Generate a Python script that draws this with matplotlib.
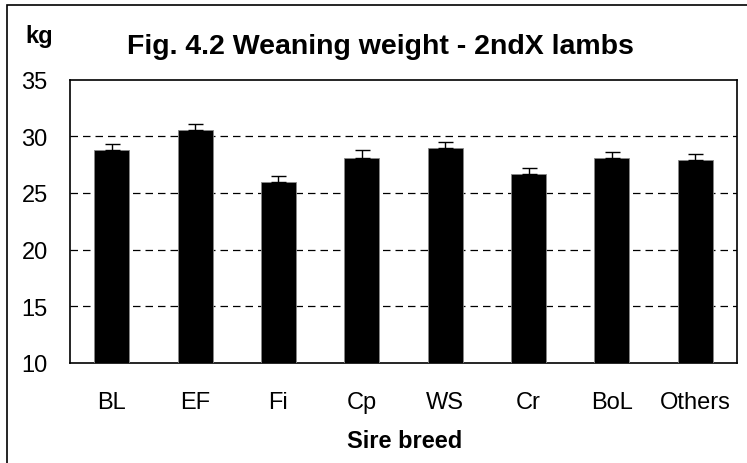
import matplotlib.pyplot as plt
from matplotlib.patches import Rectangle

plt.rcParams['font.family'] = ['Liberation Sans', 'DejaVu Sans']

breeds = ['BL', 'EF', 'Fi', 'Cp', 'WS', 'Cr', 'BoL', 'Others']
weight = [28.8, 30.55, 25.95, 28.1, 28.95, 26.65, 28.1, 27.9]
se = [0.5, 0.55, 0.55, 0.7, 0.55, 0.55, 0.5, 0.5]
yticks = [10, 15, 20, 25, 30, 35]

fig = plt.figure(figsize=(7.47, 4.64), dpi=100)
ax = fig.add_axes([70 / 747, 1 - 364 / 464, 667 / 747, 283.5 / 464])

x = range(len(breeds))
ax.bar(x, weight, width=0.42, color='black', edgecolor='#888888', linewidth=0.6, zorder=3)
ax.errorbar(x, weight, yerr=[[0] * len(se), se], fmt='none', ecolor='black',
            elinewidth=1.0, capsize=5.4, capthick=1.0, zorder=4)

ax.set_xlim(-0.5, len(breeds) - 0.5)
ax.set_ylim(10, 35)
ax.set_yticks(yticks)
ax.set_xticks(list(x))
ax.set_xticklabels(breeds)
ax.tick_params(axis='both', length=0, labelsize=17)
ax.tick_params(axis='y', pad=16)
ax.tick_params(axis='x', pad=32.4)
for lbl in ax.get_xticklabels():
    lbl.set_va('baseline')
for v in yticks[1:-1]:
    ax.axhline(v, color='black', linestyle=(0, (6, 4)), linewidth=0.9, zorder=1)
for s in ax.spines.values():
    s.set_linewidth(1.2)

fig.text(405 / 747, 1 - 448 / 464, 'Sire breed', ha='center', va='baseline',
         fontsize=17, fontweight='bold')
fig.text(380 / 747, 1 - 54 / 464, 'Fig. 4.2 Weaning weight - 2ndX lambs', ha='center', va='baseline',
         fontsize=20.5, fontweight='bold')
fig.text(39.5 / 747, 1 - 42.7 / 464, 'kg', ha='center', va='baseline', fontsize=17, fontweight='bold')

fig.patches.append(Rectangle((7 / 747, -0.1), 1.2, 1 - 6 / 464 + 0.1, transform=fig.transFigure,
                             fill=False, edgecolor='black', linewidth=1.2))

fig.savefig('out.png', dpi=100)
